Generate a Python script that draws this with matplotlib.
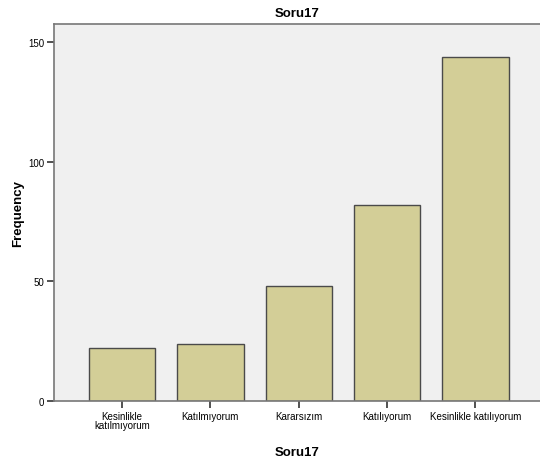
import matplotlib
matplotlib.use("Agg")
import matplotlib.pyplot as plt

# Soru17 answer counts
categories = ["Kesinlikle\nkatılmıyorum", "Katılmıyorum", "Kararsızım", "Katılıyorum", "Kesinlikle katılıyorum"]
frequency = [22, 24, 48, 82, 144]

plt.rcParams["font.family"] = ["Liberation Sans", "DejaVu Sans"]

fig = plt.figure(figsize=(5.4, 4.64), dpi=100)
ax = fig.add_axes([0.1, 0.1336, 0.9, 0.8125])
ax.set_facecolor("#F0F0F0")

x = list(range(len(categories)))
ax.bar(x, frequency, width=0.75, color="#D3CE97", edgecolor="#4A4A4A", linewidth=1.0, zorder=2)

ax.set_xlim(-0.77, 4.73)
ax.set_ylim(0, 157.7)
ax.set_xticks(x)
ax.set_xticklabels(categories, fontsize=7, linespacing=0.95)
ax.set_yticks([0, 50, 100, 150])
ax.tick_params(axis="both", labelsize=7, length=5, width=1.2, color="#333333", pad=2)

for side in ["left", "bottom", "top"]:
    ax.spines[side].set_color("#777777")
    ax.spines[side].set_linewidth(1.2)
ax.spines["right"].set_visible(False)

ax.set_title("Soru17", fontsize=9.5, fontweight="bold", pad=6)
ax.set_xlabel("Soru17", fontsize=9.5, fontweight="bold")
ax.set_ylabel("Frequency", fontsize=9.5, fontweight="bold")
ax.yaxis.set_label_coords(-0.062, 0.5)
ax.xaxis.set_label_coords(0.5, -0.119)

fig.savefig("out.png", dpi=100)
